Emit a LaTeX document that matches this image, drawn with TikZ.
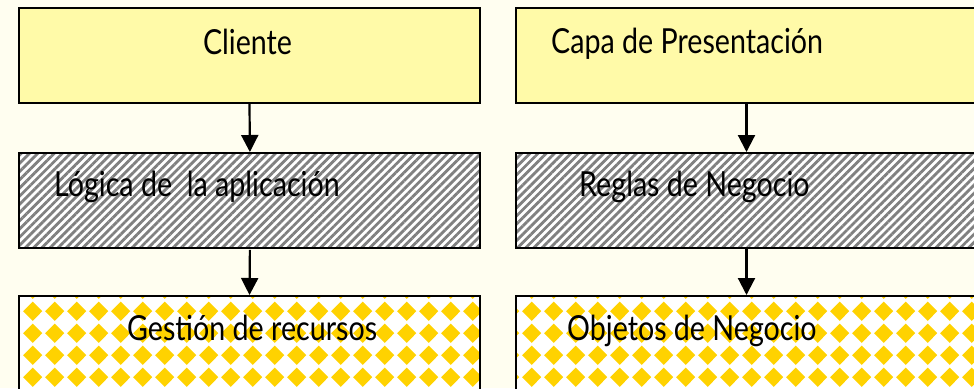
\documentclass[tikz,border=0pt]{standalone}
\usepackage{fontspec}
\setmainfont{Lato}[FakeStretch=0.83]
\usetikzlibrary{patterns,patterns.meta,arrows.meta,calc}
\definecolor{bgcol}{HTML}{FFFEF0}
\definecolor{topfill}{HTML}{FFFAA8}
\definecolor{dyellow}{HTML}{FFD200}
\definecolor{hatchgray}{HTML}{808080}
\pgfdeclarepatternformonly{YDiamonds}{\pgfpointorigin}{\pgfpoint{21.7pt}{21.7pt}}{\pgfpoint{21.7pt}{21.7pt}}{%
  \pgfpathmoveto{\pgfpoint{10.85pt}{1.2pt}}%
  \pgfpathlineto{\pgfpoint{20.5pt}{10.85pt}}%
  \pgfpathlineto{\pgfpoint{10.85pt}{20.5pt}}%
  \pgfpathlineto{\pgfpoint{1.2pt}{10.85pt}}%
  \pgfpathclose\pgfusepath{fill}}
\tikzset{
  boxbase/.style={draw=black, line width=2pt, rectangle, inner sep=0pt, anchor=north west, minimum width=461pt},
  topbox/.style={boxbase, fill=topfill, minimum height=95pt},
  hatchbox/.style={boxbase, preaction={fill=white}, pattern={Lines[angle=45,distance=5.8pt,line width=2.8pt]}, pattern color=hatchgray, minimum height=95pt},
  diabox/.style={boxbase, preaction={fill=white}, pattern=YDiamonds, pattern color=dyellow, minimum height=100pt},
  lbl/.style={inner sep=0pt, font=\fontsize{34.5}{40}\selectfont, text=black},
  conn/.style={line width=2.2pt, -{Triangle[length=17pt,width=17pt]}}
}
\begin{document}
\begin{tikzpicture}[x=1pt,y=-1pt]
\fill[bgcol] (0,0) rectangle (974,388);
\useasboundingbox (0,0) rectangle (974,388);
\node[topbox] (cli) at (18,7) {};
\node[topbox] (cap) at (515,7) {};
\node[hatchbox] (log) at (18,152) {};
\node[hatchbox] (reg) at (515,152) {};
\node[diabox] (ges) at (18,295) {};
\node[diabox] (obj) at (515,295) {};
\node[lbl, anchor=base] (tcli) at ($(cli.north)+(-2,47)$) {Cliente};
\node[lbl, anchor=base west] (tcap) at ($(cap.north west)+(36,46)$) {Capa de Presentación};
\node[lbl, anchor=base west] (tlog) at ($(log.north west)+(36,44.5)$) {Lógica de\ \ la aplicación};
\node[lbl, anchor=base west] (treg) at ($(reg.north west)+(64,44)$) {Reglas de Negocio};
\node[lbl, anchor=base west] (tges) at ($(ges.north west)+(109,45)$) {Gestión de recursos};
\node[lbl, anchor=base west] (tobj) at ($(obj.north west)+(52,45)$) {Objetos de Negocio};
\draw[conn] (cli.south) -- (log.north);
\draw[conn] (log.south) -- (ges.north);
\draw[conn] (cap.south) -- (reg.north);
\draw[conn] (reg.south) -- (obj.north);
\end{tikzpicture}
\end{document}
